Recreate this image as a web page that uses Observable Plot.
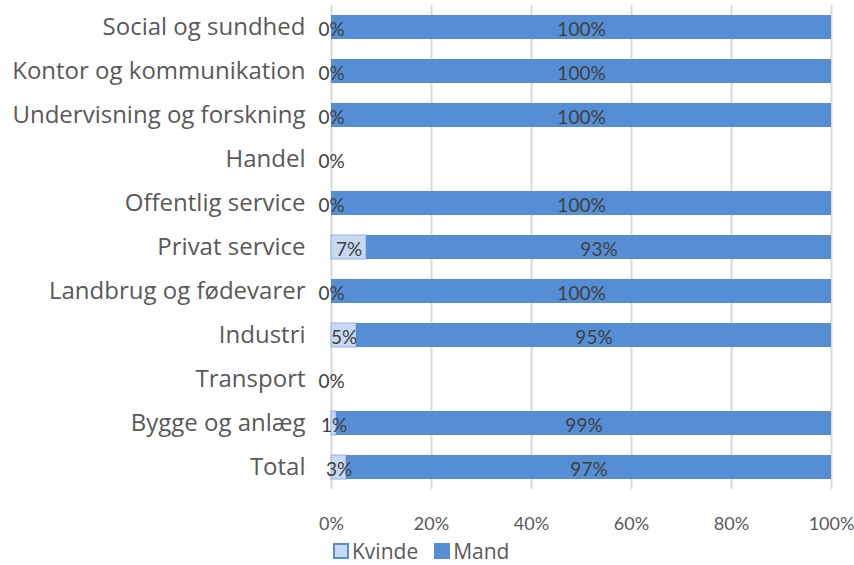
<!DOCTYPE html>
<html><head><meta charset="utf-8">
<script src="https://cdn.jsdelivr.net/npm/d3@7"></script>
<script src="https://cdn.jsdelivr.net/npm/@observablehq/plot@0.6"></script>
<style>
body{margin:0;background:#fff;font-family:"Open Sans",Lato,sans-serif;}
#wrap{position:relative;width:854px;height:565px;}
#legend{position:absolute;left:333px;top:537px;font-size:21px;color:#595959;display:flex;gap:16px;align-items:center;}
#legend span.item{display:flex;align-items:center;gap:3px;}
#legend i{display:inline-block;width:12px;height:12px;border:2px solid #558ed5;}
</style>
</head><body>
<div id="wrap"><div id="chart"></div><div id="legend"></div></div>
<script>
const categories = ["Social og sundhed","Kontor og kommunikation","Undervisning og forskning","Handel","Offentlig service","Privat service","Landbrug og fødevarer","Industri","Transport","Bygge og anlæg","Total"];
const kvinde = [0,0,0,0,0,7,0,5,0,1,3];
const mand = [100,100,100,null,100,93,100,95,null,99,97];
const xTicks = [0,20,40,60,80,100];
const series = ["Kvinde","Mand"];
const colors = ["#c6d9f1","#558ed5"];

const data = [];
categories.forEach((c,i)=>{
  data.push({cat:c, gender:"Kvinde", value:kvinde[i]});
  if (mand[i] != null) data.push({cat:c, gender:"Mand", value:mand[i]});
});

const chart = Plot.plot({
  width:854, height:540,
  marginLeft:331, marginRight:23, marginTop:5, marginBottom:51,
  style:{fontFamily:"Lato, 'Open Sans', sans-serif", background:"#fff"},
  x:{domain:[0,100], ticks:xTicks, tickFormat:d=>d+"%", label:null, tickSize:0, tickPadding:26},
  y:{domain:categories, paddingInner:0.45, paddingOuter:0.225, label:null, tickSize:0, tickPadding:26},
  color:{domain:series, range:colors},
  marks:[
    Plot.gridX(xTicks,{stroke:"#d9d9d9", strokeOpacity:1, strokeWidth:2}),
    Plot.barX(data, Plot.stackX({x:"value", y:"cat", fill:"gender", stroke:d=>d.gender==="Kvinde"?"#8fb3e3":"none", strokeWidth:1})),
    Plot.text(data, Plot.stackX({x:"value", y:"cat", text:d=>d.value+"%", fill:"#404040", fontSize:19, dy:2})),
    Plot.axisX({ticks:xTicks, tickFormat:d=>d+"%", tickSize:0, tickPadding:28, fontSize:18, color:"#595959", label:null}),
    Plot.axisY({tickSize:0, tickPadding:26, fontSize:24, fontFamily:"Open Sans", color:"#595959", label:null})
  ]
});
document.getElementById("chart").appendChild(chart);

const lg = document.getElementById("legend");
series.forEach((s,i)=>{
  const it = document.createElement("span"); it.className="item";
  const sw = document.createElement("i"); sw.style.background = colors[i];
  it.appendChild(sw); it.appendChild(document.createTextNode(s));
  lg.appendChild(it);
});
</script>
</body></html>
